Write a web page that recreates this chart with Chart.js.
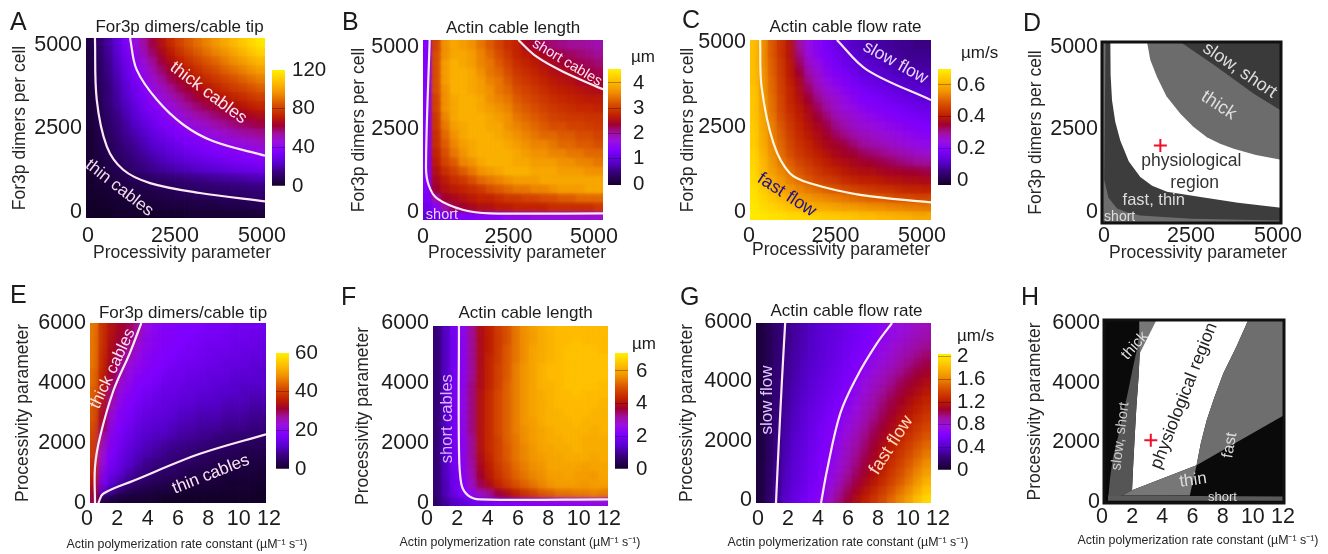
<!DOCTYPE html>
<html>
<head>
<meta charset="utf-8">
<title>Actin cable parameter scans</title>
<script src="https://cdn.jsdelivr.net/npm/chart.js@4"></script>
<style>
  html, body { margin: 0; background: #fff; }
  body { position: relative; width: 1328px; height: 554px; overflow: hidden; font-family: "Liberation Sans", Arial, sans-serif; color: #1c1c1c; }
  canvas { position: absolute; filter: blur(0.5px); }
  .tag { position: absolute; line-height: 1; white-space: nowrap; }
</style>
</head>
<body>
<script>
// heat map values, rows from the top of each panel down, 20 columns left to right
const tipDimersA = [
  [5,11,18,26,35,45,53,61,68,75,81,86,90,94,98,102,106,110,114,118],
  [4,10,17,25,33,42,50,58,65,71,77,82,86,90,94,97,101,105,109,113],
  [4,10,16,23,31,39,47,54,61,67,72,77,81,85,88,92,96,99,103,106],
  [4,9,15,22,29,37,44,51,57,63,68,72,76,80,83,87,90,93,97,100],
  [4,9,14,20,27,34,41,47,53,59,63,68,71,75,78,81,84,87,90,93],
  [3,8,13,19,25,32,38,44,49,54,59,63,66,70,73,76,79,81,84,87],
  [3,8,13,18,24,30,35,41,46,50,54,58,62,65,68,70,73,75,78,80],
  [3,7,12,17,22,27,33,38,42,46,50,54,57,60,62,65,67,69,72,74],
  [3,7,11,15,20,25,30,34,38,42,45,49,52,54,57,59,61,63,65,67],
  [3,6,10,14,18,23,27,31,35,38,41,44,47,49,52,54,56,58,59,61],
  [2,6,9,13,17,20,24,28,31,34,37,39,42,44,46,48,50,52,53,55],
  [2,5,8,11,15,18,21,25,28,30,33,35,37,39,41,43,44,46,47,49],
  [2,5,7,10,13,16,19,22,24,27,29,31,33,35,36,38,39,41,42,43],
  [2,4,6,9,11,14,16,19,21,23,25,27,28,30,31,33,34,35,36,38],
  [2,4,5,7,9,12,14,16,18,19,21,22,24,25,26,27,29,30,31,32],
  [1,3,4,6,7,8,9,10,11,12,13,14,15,16,17,18,18,19,20,21],
  [1,2,3,4,5,6,6,7,8,8,9,10,11,11,12,12,13,13,14,14],
  [1,1,2,3,3,4,5,5,6,6,7,7,8,8,9,9,10,10,11,11],
  [0,1,1,2,2,2,3,3,3,4,4,4,5,5,5,6,6,6,7,7],
  [0,0,0,1,1,1,1,1,1,1,1,2,2,2,2,2,2,2,2,3]
];
const cableLengthB = [
  [1.4,3.1,3.7,3.9,3.8,3.7,3.5,3.3,3.1,2.9,2.8,2.5,2.35,2.25,2.2,2.15,2.1,2.1,2.05,2],
  [1.4,3.2,3.7,3.9,3.9,3.8,3.6,3.4,3.2,3,2.8,2.7,2.6,2.45,2.35,2.3,2.25,2.2,2.15,2.1],
  [1.4,3.2,3.8,4,3.9,3.8,3.6,3.5,3.3,3.1,2.9,2.8,2.7,2.6,2.5,2.4,2.35,2.3,2.25,2.2],
  [1.4,3.2,3.8,4,4,3.9,3.7,3.5,3.4,3.2,3,2.9,2.8,2.7,2.6,2.55,2.5,2.4,2.35,2.3],
  [1.4,3.2,3.8,4,4,3.9,3.8,3.6,3.5,3.3,3.1,3,2.9,2.8,2.7,2.65,2.6,2.5,2.45,2.4],
  [1.4,3.2,3.7,4,4,3.9,3.8,3.7,3.5,3.4,3.2,3.1,3,2.9,2.8,2.75,2.7,2.65,2.6,2.55],
  [1.4,3.1,3.7,3.9,4,4,3.9,3.7,3.6,3.5,3.3,3.2,3.1,3,2.9,2.85,2.8,2.75,2.7,2.7],
  [1.4,3.1,3.7,3.9,4,4,3.9,3.8,3.7,3.6,3.4,3.3,3.2,3.1,3,2.95,2.9,2.85,2.85,2.8],
  [1.4,3,3.6,3.9,4,4,4,3.9,3.8,3.7,3.5,3.4,3.3,3.2,3.1,3.05,3,3,2.95,2.95],
  [1.4,3,3.5,3.8,3.9,4,4,3.9,3.9,3.7,3.6,3.5,3.4,3.3,3.2,3.2,3.1,3.1,3.05,3],
  [1.4,2.9,3.4,3.7,3.9,4,4,4,3.9,3.8,3.7,3.6,3.5,3.4,3.4,3.3,3.3,3.2,3.2,3.1],
  [1.4,2.9,3.3,3.6,3.8,3.9,4,4,4,3.9,3.8,3.7,3.6,3.6,3.5,3.4,3.4,3.3,3.3,3.2],
  [1.4,2.8,3.2,3.5,3.7,3.9,4,4,4,4,3.9,3.8,3.7,3.7,3.6,3.6,3.5,3.5,3.4,3.4],
  [1.4,2.7,3.1,3.3,3.6,3.7,3.9,4,4,4,3.9,3.9,3.8,3.8,3.8,3.7,3.7,3.6,3.6,3.5],
  [1.4,2.6,2.9,3.1,3.3,3.5,3.7,3.8,3.9,4,4,4,3.9,3.9,3.9,3.8,3.8,3.8,3.7,3.7],
  [1.4,2.5,2.7,2.9,3,3.2,3.4,3.5,3.6,3.7,3.8,3.8,3.8,3.9,3.9,3.9,3.9,3.9,3.9,3.9],
  [1.4,2.4,2.6,2.7,2.8,2.9,3,3.2,3.3,3.4,3.5,3.5,3.6,3.6,3.7,3.8,3.8,3.8,3.9,3.9],
  [1.3,2,2.4,2.5,2.6,2.7,2.8,2.8,2.9,3,3,3.1,3.1,3.2,3.2,3.3,3.3,3.4,3.4,3.4],
  [1.2,1.5,2,2.3,2.4,2.5,2.6,2.6,2.7,2.7,2.8,2.8,2.8,2.8,2.9,2.9,2.9,2.9,2.9,3],
  [1,1.1,1.2,1.3,1.4,1.4,1.5,1.5,1.5,1.6,1.6,1.6,1.7,1.7,1.7,1.7,1.8,1.8,1.8,1.8]
];
const flowRateC = [
  [.63,.56,.49,.44,.39,.30,.24,.21,.18,.15,.13,.11,.10,.09,.08,.08,.07,.07,.06,.06],
  [.63,.56,.49,.44,.39,.31,.25,.22,.19,.17,.15,.13,.11,.10,.09,.08,.08,.07,.07,.07],
  [.63,.56,.50,.45,.40,.33,.27,.24,.21,.18,.16,.14,.13,.12,.11,.10,.09,.08,.08,.08],
  [.63,.57,.50,.45,.40,.35,.29,.26,.22,.20,.18,.16,.14,.13,.12,.11,.10,.10,.09,.09],
  [.63,.57,.51,.46,.41,.37,.31,.27,.24,.22,.20,.18,.16,.15,.14,.13,.12,.11,.11,.10],
  [.64,.57,.51,.46,.42,.38,.33,.29,.26,.24,.22,.20,.18,.17,.16,.15,.14,.13,.12,.12],
  [.64,.58,.52,.47,.42,.39,.35,.31,.28,.26,.24,.22,.20,.19,.18,.17,.16,.15,.14,.13],
  [.64,.58,.52,.47,.43,.40,.37,.33,.30,.27,.25,.24,.22,.21,.20,.19,.18,.17,.16,.15],
  [.64,.59,.53,.48,.44,.41,.38,.35,.32,.29,.27,.26,.24,.23,.22,.21,.20,.19,.18,.17],
  [.65,.59,.54,.49,.45,.42,.39,.37,.34,.31,.29,.27,.26,.25,.24,.23,.22,.21,.20,.19],
  [.65,.60,.54,.50,.46,.43,.40,.38,.36,.33,.31,.29,.28,.27,.26,.25,.24,.23,.22,.21],
  [.65,.60,.55,.51,.47,.44,.42,.39,.37,.36,.34,.32,.30,.29,.28,.27,.26,.25,.24,.23],
  [.66,.61,.56,.52,.48,.45,.43,.41,.39,.37,.36,.35,.33,.32,.31,.30,.29,.28,.27,.26],
  [.66,.62,.57,.53,.50,.47,.45,.43,.41,.39,.38,.37,.36,.35,.34,.33,.32,.31,.30,.30],
  [.67,.62,.58,.55,.52,.49,.47,.45,.43,.42,.40,.39,.38,.38,.37,.36,.36,.35,.35,.34],
  [.67,.63,.60,.57,.54,.52,.49,.47,.46,.45,.43,.42,.41,.41,.40,.39,.39,.38,.38,.37],
  [.68,.65,.62,.59,.57,.55,.53,.52,.50,.49,.48,.47,.46,.45,.44,.44,.43,.42,.42,.41],
  [.68,.66,.64,.62,.60,.58,.57,.56,.55,.54,.53,.52,.51,.50,.50,.49,.48,.48,.47,.47],
  [.69,.67,.66,.65,.63,.62,.61,.60,.60,.59,.58,.58,.57,.56,.56,.55,.55,.54,.54,.53],
  [.69,.69,.68,.68,.67,.67,.66,.66,.65,.65,.64,.64,.63,.63,.62,.62,.61,.61,.60,.60]
];
const tipDimersE = [
  [46,38,34,32,30,27,22,20,19,19,18,18,18,17,17,17,16,16,16,16],
  [46,38,34,31,29,25,21,20,19,19,18,18,17,17,17,16,16,16,15,15],
  [46,38,33,30,28,23,21,20,19,18,18,17,17,16,16,16,15,15,15,14],
  [46,37,33,29,26,22,20,19,18,18,17,17,16,16,15,15,15,14,14,14],
  [46,37,32,28,23,21,20,19,18,17,16,16,16,15,15,14,14,14,13,13],
  [45,36,31,26,22,20,19,18,17,16,16,15,15,14,14,14,13,13,13,12],
  [45,36,30,24,21,19,18,17,16,15,15,14,14,14,13,13,12,12,12,12],
  [44,35,28,22,20,18,17,16,15,15,14,14,13,13,12,12,12,11,11,11],
  [44,34,26,21,19,17,16,15,14,14,13,13,12,12,12,11,11,11,10,10],
  [43,33,24,20,18,16,15,14,14,13,12,12,11,11,11,10,10,10,9,9],
  [43,32,22,19,17,15,14,13,13,12,11,11,10,10,10,9,9,9,8,8],
  [42,30,21,18,16,14,13,12,12,11,10,10,9,9,9,8,8,8,7,7],
  [41,27,20,17,15,13,12,11,11,10,9,9,8,8,7,7,6,6,6,5],
  [40,25,19,16,14,12,11,10,9,8,8,7,7,6,6,5,5,4,4,4],
  [40,23,18,15,13,11,10,9,8,7,7,6,5,5,4,4,4,3,3,3],
  [38,22,17,14,12,10,8,7,7,6,5,5,4,4,3,3,3,2,2,2],
  [37,20,15,13,10,8,7,6,5,5,4,3,3,3,2,2,2,2,2,1],
  [35,18,13,10,8,6,5,4,4,3,3,2,2,2,2,1,1,1,1,1],
  [33,14,9,6,4,3,3,2,2,2,1,1,1,1,1,1,1,1,1,0],
  [30,3,2,1,1,1,1,1,0,0,0,0,0,0,0,0,0,0,0,0]
];
const cableLengthF = [
  [.7,1.3,1.9,2.3,3.1,3.8,4.1,4.5,4.8,5.2,5.5,5.7,5.9,6,6.1,6.1,6.1,6.1,6.1,6.1],
  [.7,1.3,1.9,2.3,3.1,3.8,4.1,4.5,4.8,5.2,5.5,5.7,5.9,6,6.1,6.1,6.2,6.1,6.1,6.1],
  [.7,1.3,1.9,2.3,3.1,3.8,4.1,4.5,4.9,5.2,5.5,5.8,5.9,6,6.1,6.2,6.2,6.2,6.2,6.1],
  [.7,1.3,1.9,2.3,3.1,3.8,4.2,4.5,4.9,5.2,5.5,5.8,5.9,6,6.1,6.2,6.2,6.2,6.2,6.2],
  [.7,1.3,1.9,2.3,3.1,3.8,4.2,4.6,4.9,5.3,5.6,5.8,6,6.1,6.1,6.2,6.2,6.2,6.2,6.2],
  [.7,1.3,1.9,2.3,3.1,3.8,4.2,4.6,4.9,5.3,5.6,5.8,6,6.1,6.1,6.2,6.2,6.2,6.2,6.2],
  [.7,1.3,1.9,2.3,3.2,3.8,4.2,4.6,5,5.3,5.6,5.8,6,6,6.1,6.2,6.2,6.2,6.2,6.1],
  [.7,1.3,1.9,2.4,3.2,3.9,4.3,4.7,5,5.3,5.6,5.8,5.9,6,6.1,6.1,6.2,6.1,6.1,6.1],
  [.7,1.3,1.9,2.4,3.2,3.9,4.3,4.7,5,5.3,5.6,5.8,5.9,6,6.1,6.1,6.1,6.1,6.1,6],
  [.7,1.3,1.9,2.4,3.2,3.9,4.3,4.7,5,5.3,5.6,5.8,5.9,6,6,6.1,6.1,6.1,6,6],
  [.7,1.3,1.9,2.4,3.2,3.9,4.3,4.7,5,5.3,5.6,5.7,5.9,6,6,6,6.1,6,6,6],
  [.7,1.3,1.9,2.4,3.2,3.9,4.3,4.7,5,5.3,5.5,5.7,5.8,5.9,6,6,6,6,5.9,6],
  [.7,1.3,1.9,2.3,3.1,3.9,4.3,4.6,5,5.2,5.5,5.7,5.8,5.9,5.9,6,6,5.9,5.9,5.9],
  [.7,1.3,1.9,2.3,3.1,3.9,4.3,4.6,4.9,5.2,5.4,5.6,5.8,5.8,5.9,5.9,6,5.9,5.9,5.9],
  [.7,1.3,1.9,2.3,3.1,3.8,4.2,4.6,4.9,5.2,5.4,5.6,5.7,5.8,5.8,5.9,5.9,5.9,5.8,5.9],
  [.7,1.3,1.9,2.3,3,3.7,4.1,4.5,4.8,5.1,5.3,5.5,5.6,5.8,5.8,5.8,5.8,5.7,5.8,5.8],
  [.7,1.3,1.8,2.3,2.9,3.6,4,4.4,4.7,5,5.2,5.4,5.5,5.7,5.7,5.8,5.7,5.7,5.6,5.8],
  [.7,1.2,1.8,2.2,2.8,3.4,3.8,4.2,4.5,4.8,5,5.2,5.4,5.6,5.7,5.7,5.7,5.6,5.7,5.7],
  [.7,1.2,1.7,2.1,2.4,2.8,3.1,3.5,3.8,4.1,4.4,4.6,4.9,5,5.2,5.2,5.3,5.3,5.4,5.3],
  [.6,1,1.3,1.5,1.7,1.8,1.9,2,2,2.1,2.1,2.2,2.2,2.2,2.2,2.3,2.3,2.3,2.4,2.4]
];
const flowRateG = [
  [.05,.13,.20,.26,.31,.35,.39,.43,.46,.49,.53,.56,.60,.63,.70,.74,.78,.81,.84,.87],
  [.05,.13,.20,.26,.31,.36,.40,.44,.47,.50,.54,.57,.60,.65,.71,.76,.80,.83,.87,.90],
  [.05,.13,.21,.27,.32,.36,.40,.44,.48,.52,.55,.58,.62,.69,.74,.79,.83,.87,.91,.94],
  [.05,.14,.21,.27,.33,.37,.41,.45,.49,.53,.56,.60,.66,.72,.77,.82,.87,.91,.95,.99],
  [.05,.14,.22,.28,.33,.38,.42,.46,.50,.54,.58,.62,.70,.75,.80,.85,.90,.95,1.00,1.04],
  [.05,.14,.22,.28,.34,.39,.43,.47,.52,.56,.60,.66,.73,.79,.84,.89,.95,1.00,1.05,1.09],
  [.05,.14,.23,.29,.35,.40,.44,.49,.53,.57,.62,.70,.77,.83,.88,.94,1.00,1.05,1.10,1.15],
  [.05,.14,.23,.30,.36,.41,.46,.50,.55,.59,.65,.72,.80,.86,.92,.98,1.04,1.10,1.15,1.20],
  [.05,.15,.24,.30,.37,.42,.47,.52,.56,.61,.68,.75,.83,.89,.96,1.02,1.08,1.14,1.20,1.25],
  [.05,.15,.24,.31,.38,.44,.49,.54,.59,.64,.71,.78,.85,.92,.99,1.05,1.12,1.18,1.24,1.30],
  [.05,.15,.25,.32,.39,.45,.51,.56,.61,.67,.74,.81,.88,.95,1.02,1.09,1.16,1.22,1.29,1.35],
  [.06,.16,.25,.33,.40,.46,.52,.58,.63,.69,.77,.84,.92,.99,1.06,1.13,1.20,1.27,1.34,1.40],
  [.06,.16,.26,.34,.41,.47,.53,.59,.65,.72,.80,.87,.95,1.03,1.10,1.17,1.25,1.32,1.39,1.46],
  [.06,.16,.26,.35,.42,.48,.54,.60,.66,.74,.83,.90,.98,1.06,1.14,1.22,1.30,1.37,1.45,1.52],
  [.06,.16,.27,.36,.43,.49,.55,.61,.68,.76,.85,.93,1.01,1.09,1.17,1.26,1.34,1.42,1.50,1.58],
  [.06,.17,.27,.37,.44,.50,.56,.62,.70,.79,.88,.96,1.04,1.13,1.21,1.30,1.38,1.47,1.56,1.65],
  [.06,.17,.28,.38,.45,.51,.57,.64,.72,.82,.91,.99,1.08,1.16,1.25,1.34,1.43,1.52,1.62,1.72],
  [.06,.17,.29,.39,.46,.52,.58,.65,.76,.85,.95,1.03,1.12,1.20,1.29,1.38,1.47,1.57,1.68,1.80],
  [.06,.18,.30,.40,.48,.54,.60,.67,.80,.90,1.00,1.09,1.18,1.27,1.36,1.45,1.55,1.65,1.76,1.88],
  [.06,.18,.31,.42,.50,.56,.63,.70,.84,.95,1.05,1.15,1.24,1.33,1.42,1.52,1.62,1.72,1.85,1.96]
];

// white contour lines, [x, y] in axis units
const thinLineA = [[250,5000],[300,3290],[580,1990],[1040,1340],[1790,970],[3180,695],[5000,463]];
const thickLineA = [[1230,5000],[1415,4120],[1975,3290],[2720,2590],[3560,2130],[5000,1730]];
const shortLineB = [[185,5000],[83,1481],[157,972],[387,602],[1125,278],[1863,185],[5000,185]];
const shortCablesB = [[2648,5000],[3155,4537],[3893,4120],[5000,3630]];
const fastLineC = [[280,5000],[320,3700],[650,2130],[1100,1300],[1660,1020],[3040,700],[5000,490]];
const slowLineC = [[2400,5000],[3230,4170],[5000,3330]];
const thickLineE = [[.34,0],[.34,1200],[.68,2200],[1.6,3750],[2.7,4980],[3.5,6000]];
const thinLineE = [[.57,0],[.9,310],[3,750],[7.5,1640],[12,2290]];
const shortLineF = [[1.78,6000],[1.78,1967],[1.94,744],[2.4,356],[3.2,222],[12,222]];
const slowLineG = [[2,6000],[1.78,4100],[1.55,1870],[1.37,0]];
const fastLineG = [[4.46,0],[4.87,1090],[5.78,2990],[6.93,4220],[8.3,5330],[9.33,6000]];

// phase diagram regions, drawn as closed shapes
const dSlowShort = [[2190,5000],[3210,4310],[4240,3570],[5000,3110],[5000,5000]];
const dThick = [[1257,5000],[1350,4500],[1537,4030],[1800,3500],[2190,3020],[2550,2660],[2930,2370],[3300,2190],[3680,2050],[4300,1880],[5000,1750],[5000,5000]];
const dFastThin = [[0,5000],[233,5000],[240,4100],[280,3390],[370,2800],[510,2280],[750,1700],[1070,1270],[1400,1030],[1815,860],[2750,720],[3800,560],[5000,420],[5000,0],[0,0]];
const dShort = [[0,5000],[100,5000],[80,3000],[60,1200],[180,700],[420,400],[700,290],[1070,210],[2500,120],[5000,70],[5000,0],[0,0]];
const dCross = [[1630,2140]];
const hBase = [[0,0],[0,6000],[12,6000],[12,0]];
const hWhite = [[2.38,6000],[9.62,6000],[8.8,5100],[7.95,4250],[7.35,3450],[6.85,2720],[6.45,1950],[6.17,1240],[1.87,420],[1.94,1180],[2.05,2200],[2.16,3150],[2.3,4100],[2.38,4900]];
const hSlowShort = [[2.38,5670],[2.2,5050],[1.94,4470],[1.6,3650],[1.27,2930],[.95,2200],[.6,1500],[.4,800],[.27,100],[1.2,250],[1.87,420],[1.94,1180],[2.05,2200],[2.16,3150],[2.3,4100],[2.38,4900]];
const hThick = [[2.38,6000],[3.5,6000],[2.38,4900]];
const hFast = [[6.17,1240],[6.45,1950],[6.85,2720],[7.35,3450],[7.95,4250],[8.8,5100],[9.62,6000],[12,6000],[12,2880]];
const hThin = [[1.2,250],[1.87,420],[6.17,1240],[5.72,250]];
const hShort = [[.27,250],[12,210],[12,70],[.27,70]];
const hCross = [[3.12,2058]];

const ticks5000 = [0,2500,5000];
const ticks6000 = [0,2000,4000,6000];
const ticks12 = [0,2,4,6,8,10,12];

const xProc = 'Processivity parameter';
const yFor3p = 'For3p dimers per cell';
const xActin = 'Actin polymerization rate constant (µM⁻¹ s⁻¹)';

// black, violet, dark red, orange, yellow
const colorStops = [
  [0,[21,0,42]],[.12,[58,0,128]],[.2,[90,0,208]],[.3,[128,0,255]],[.38,[154,16,224]],[.45,[160,16,160]],
  [.52,[160,0,48]],[.6,[192,32,0]],[.7,[216,80,0]],[.8,[240,144,0]],[.9,[255,192,0]],[1,[255,240,0]]
];

function heatColor(v, min, max) {
  let f = Math.max(0, Math.min(1, (v - min) / (max - min)));
  for (let i = 1; i < colorStops.length; i++) {
    if (f <= colorStops[i][0]) {
      let a = colorStops[i-1], b = colorStops[i];
      let t = (f - a[0]) / (b[0] - a[0]);
      let c = a[1].map((n, k) => Math.round(n + (b[1][k] - n) * t));
      return `rgb(${c[0]},${c[1]},${c[2]})`;
    }
  }
  return 'rgb(255,240,0)';
}

function addTag(text, left, top, size) {
  let el = document.createElement('div');
  el.className = 'tag';
  el.textContent = text;
  el.style.left = left + 'px';
  el.style.top = top + 'px';
  el.style.fontSize = size + 'px';
  document.body.appendChild(el);
}

function addCanvas(left, top, w, h) {
  let c = document.createElement('canvas');
  c.width = w;
  c.height = h;
  c.style.left = left + 'px';
  c.style.top = top + 'px';
  document.body.appendChild(c);
  return c;
}

// axis that only carries labels, stretched so its labels land where the figure has them
function tickRange(lo, hi, pxLo, pxHi, edgeLo, edgeHi) {
  let per = (hi - lo) / (pxHi - pxLo);
  return { min: lo + (edgeLo - pxLo) * per, max: hi + (edgeHi - pxHi) * per };
}

function lineSet(points, color) {
  return {
    type: 'line', data: points.map(p => ({x: p[0], y: p[1]})), xAxisID: 'x', yAxisID: 'y',
    borderColor: color || '#fbeaf6', borderWidth: 2.2, pointRadius: 0, tension: 0.35, fill: false, order: 0
  };
}

function shapeSet(points, color, order) {
  return {
    type: 'line', data: points.map(p => ({x: p[0], y: p[1]})), xAxisID: 'x', yAxisID: 'y',
    backgroundColor: color, borderWidth: 0, pointRadius: 0, tension: 0, fill: 'shape', order: order
  };
}

function crossSet(points) {
  return {
    type: 'line', data: points.map(p => ({x: p[0], y: p[1]})), xAxisID: 'x', yAxisID: 'y', showLine: false,
    pointStyle: 'cross', pointRadius: 6.5, pointBorderColor: '#f0102a', pointBorderWidth: 2, order: 0
  };
}

function frameSet(xMax, yMax) {
  return {
    type: 'line', data: [{x:0,y:0},{x:xMax,y:0},{x:xMax,y:yMax},{x:0,y:yMax},{x:0,y:0}], xAxisID: 'x', yAxisID: 'y',
    borderColor: '#111', borderWidth: 3, pointRadius: 0, clip: false, order: 0, borderCapStyle: 'square'
  };
}

// sharp cells underneath, the same cells softened on top (the figure's maps are smooth)
function heatSets(rows, yMax, min, max, soft) {
  let dy = yMax / rows.length;
  let sets = [];
  for (const layer of [0, 1]) {
    rows.forEach((row, r) => sets.push({
      data: row.map(() => [yMax - (r + 1) * dy, yMax - r * dy]),
      backgroundColor: row.map(v => heatColor(v, min, max)),
      xAxisID: 'xc', yAxisID: 'y', grouped: false, barPercentage: 1, categoryPercentage: 1, borderWidth: 0,
      order: layer ? 5 : 6, soft: layer ? soft : 0
    }));
  }
  return sets;
}

function panel(p) {
  let w = p.x1 - p.x0, h = p.y1 - p.y0;
  let titleH = p.title ? 20 + p.titleGap : 22;
  let right = p.left + 2 * (p.titleDx || 0);
  let canvasLeft = p.x0 - p.left, canvasTop = p.y0 - titleH;
  let canvas = addCanvas(canvasLeft, canvasTop, p.left + w + right, titleH + h + p.bottom);
  let xr = tickRange(p.xTicks[0], p.xTicks[p.xTicks.length-1], p.xPx[0], p.xPx[1], p.x0, p.x1);
  let yr = tickRange(p.yTicks[0], p.yTicks[p.yTicks.length-1], p.yPx[0], p.yPx[1], p.y1, p.y0);
  let texts = {
    id: 'panelText',
    beforeDatasetDraw(chart, args) {
      let s = chart.data.datasets[args.index].soft;
      if (s) { chart.ctx.save(); chart.ctx.filter = `blur(${s}px)`; }
    },
    afterDatasetDraw(chart, args) {
      if (chart.data.datasets[args.index].soft) chart.ctx.restore();
    },
    afterDatasetsDraw(chart) {
      let c = chart.ctx;
      c.textAlign = 'center';
      c.textBaseline = 'middle';
      for (const t of p.labels) {
        c.save();
        c.translate(chart.scales.x.getPixelForValue(t.x), chart.scales.y.getPixelForValue(t.y));
        c.rotate((t.rot || 0) * Math.PI / 180);
        c.font = `${t.size}px "Liberation Sans"`;
        c.fillStyle = t.color;
        c.fillText(t.text, 0, 0);
        c.restore();
      }
      // x title is drawn here because the scale title gets squeezed to the axis length
      c.font = `${p.xTitleSize}px "Liberation Sans"`;
      c.fillStyle = '#262626';
      c.fillText(p.xTitle, p.xTitleAt[0] - canvasLeft, p.xTitleAt[1] - canvasTop);
    }
  };
  new Chart(canvas, {
    type: 'bar',
    data: { labels: p.rows ? p.rows[0].map((_, i) => i) : [0], datasets: p.sets },
    plugins: [texts],
    options: {
      responsive: false, animation: false,
      layout: { padding: p.title ? 0 : { top: titleH } },
      plugins: {
        legend: { display: false }, tooltip: { enabled: false },
        title: { display: !!p.title, text: p.title, color: '#1c1c1c', font: { size: 17, weight: 'normal', lineHeight: 20/17 }, padding: { top: 0, bottom: p.titleGap || 0 } }
      },
      scales: {
        xc: { type: 'category', display: false },
        x: { type: 'linear', display: false, min: 0, max: p.xMax, offset: false },
        y: { type: 'linear', display: false, min: 0, max: p.yMax },
        xt: {
          type: 'linear', position: 'bottom', min: xr.min, max: xr.max, offset: false,
          afterBuildTicks(s) { s.ticks = p.xTicks.map(v => ({value: v})); },
          afterFit(s) { s.height = p.bottom; },
          grid: { display: false, drawTicks: false }, border: { display: false },
          ticks: { color: '#1c1c1c', font: { size: 21.5 }, padding: p.xPad, maxRotation: 0, autoSkip: false, callback: v => String(v) }
        },
        yt: {
          type: 'linear', position: 'left', min: yr.min, max: yr.max,
          afterBuildTicks(s) { s.ticks = p.yTicks.map(v => ({value: v})); },
          afterFit(s) { s.width = p.left; },
          grid: { display: false, drawTicks: false }, border: { display: false },
          ticks: { color: '#1c1c1c', font: { size: 21.5 }, padding: 4, autoSkip: false, callback: v => String(v) },
          title: { display: true, text: p.yTitle, color: '#262626', font: { size: 17.5, lineHeight: 1.2 }, padding: 0 }
        },
        yr: {
          type: 'linear', position: 'right', min: 0, max: 1,
          afterFit(s) { s.width = right; },
          grid: { display: false, drawTicks: false }, border: { display: false }, ticks: { display: false }
        }
      }
    }
  });
}

function colorBar(x0, x1, y0, y1, min, max, tickVals, pad) {
  let canvas = addCanvas(x0, y0 - 30, x1 - x0 + 64, y1 - y0 + 60);
  let fill = ctx => {
    let a = ctx.chart.chartArea;
    if (!a) return '#000';
    let g = ctx.chart.ctx.createLinearGradient(0, a.bottom, 0, a.top);
    colorStops.forEach(s => g.addColorStop(s[0], `rgb(${s[1].join(',')})`));
    return g;
  };
  new Chart(canvas, {
    type: 'bar',
    data: { labels: [''], datasets: [{ data: [[min, max]], backgroundColor: fill, barPercentage: 1, categoryPercentage: 1, borderWidth: 0 }] },
    options: {
      responsive: false, animation: false,
      layout: { padding: { top: 30, bottom: 30 } },
      plugins: { legend: { display: false }, tooltip: { enabled: false } },
      scales: {
        x: { display: false },
        y: {
          position: 'right', min: min, max: max,
          afterBuildTicks(s) { s.ticks = tickVals.map(v => ({value: v})); },
          afterFit(s) { s.width = 64; },
          grid: { color: c => (c.tick && (c.tick.value <= 0 || c.tick.value >= max)) ? 'rgba(0,0,0,0)' : 'rgba(0,0,0,.3)', z: 1, drawTicks: false },
          border: { display: false },
          ticks: { color: '#1c1c1c', font: { size: 20.5 }, padding: pad, autoSkip: false, callback: v => String(v) }
        }
      }
    }
  });
}

Chart.defaults.font.family = '"Liberation Sans", Arial, sans-serif';

const pale = '#fbe4f2';

panel({ x0:86, x1:265, y0:38, y1:218, left:76, bottom:45, title:'For3p dimers/cable tip', titleGap:1, titleDx:4, xPad:5,
  xMax:5000, yMax:5000, xTicks:ticks5000, yTicks:ticks5000, xPx:[88,262], yPx:[212,45], xTitle:xProc, xTitleSize:17.5, xTitleAt:[182,253], yTitle:yFor3p, rows:tipDimersA,
  sets:[lineSet(thinLineA), lineSet(thickLineA), ...heatSets(tipDimersA, 5000, 0, 120, 4)],
  labels:[{text:'thick cables',x:3417,y:3472,rot:37,size:17.5,color:pale},{text:'thin cables',x:931,y:833,rot:38,size:17,color:'#f0dcea'}] });

panel({ x0:423, x1:603, y0:40, y1:220, left:74, bottom:44, title:'Actin cable length', titleGap:2, titleDx:0, xPad:4,
  xMax:5000, yMax:5000, xTicks:ticks5000, yTicks:ticks5000, xPx:[423,594], yPx:[212,47], xTitle:xProc, xTitleSize:17.5, xTitleAt:[517,253], yTitle:yFor3p, rows:cableLengthB,
  sets:[lineSet(shortLineB), lineSet(shortCablesB), ...heatSets(cableLengthB, 5000, 0, 4.6, 2)],
  labels:[{text:'short cables',x:4004,y:4370,rot:31,size:14.5,color:pale},{text:'short',x:526,y:139,size:14.5,color:'#ecd0f6'}] });

panel({ x0:750, x1:931, y0:40, y1:220, left:72, bottom:41, title:'Actin cable flow rate', titleGap:3, titleDx:5, xPad:3,
  xMax:5000, yMax:5000, xTicks:ticks5000, yTicks:ticks5000, xPx:[749,922], yPx:[212,42], xTitle:xProc, xTitleSize:17.5, xTitleAt:[841,250], yTitle:yFor3p, rows:flowRateC,
  sets:[lineSet(fastLineC,'#fff6e0'), lineSet(slowLineC), ...heatSets(flowRateC, 5000, -.03, .7, 4)],
  labels:[{text:'slow flow',x:4013,y:4370,rot:29,size:17.5,color:'#e8d4ff'},{text:'fast flow',x:1015,y:694,rot:33,size:18,color:'#23108c'}] });

panel({ x0:1102, x1:1281, y0:42, y1:223, left:76, bottom:41, titleGap:0, xPad:0,
  xMax:5000, yMax:5000, xTicks:ticks5000, yTicks:ticks5000, xPx:[1104,1278], yPx:[212,47], xTitle:xProc, xTitleSize:17.5, xTitleAt:[1198,253], yTitle:yFor3p,
  sets:[frameSet(5000,5000), crossSet(dCross), shapeSet(dShort,'#6e6e6e',6), shapeSet(dSlowShort,'#3a3a3a',7), shapeSet(dThick,'#6c6c6c',8), shapeSet(dFastThin,'#3d3d3d',9)],
  labels:[{text:'slow, short',x:3846,y:4217,rot:34,size:18,color:'#dddddd'},{text:'thick',x:3259,y:3250,rot:33,size:18.5,color:'#dddddd'},
    {text:'physiological',x:2495,y:1704,size:17.5,color:'#333333'},{text:'region',x:2589,y:1105,size:17.5,color:'#333333'},
    {text:'fast, thin',x:1446,y:626,size:16.5,color:'#dddddd'},{text:'short',x:494,y:166,size:14,color:'#dddddd'}] });

panel({ x0:90, x1:266, y0:323, y1:503, left:77, bottom:50, title:'For3p dimers/cable tip', titleGap:0, titleDx:5, xPad:3,
  xMax:12, yMax:6000, xTicks:ticks12, yTicks:ticks6000, xPx:[87,269], yPx:[503,323], xTitle:xActin, xTitleSize:12.4, xTitleAt:[187,545], yTitle:xProc, rows:tipDimersE,
  sets:[lineSet(thickLineE), lineSet(thinLineE), ...heatSets(tipDimersE, 6000, 0, 60, 4)],
  labels:[{text:'thick cables',x:1.55,y:4478,rot:-65,size:16.5,color:pale},{text:'thin cables',x:8.24,y:955,rot:-21.6,size:17,color:pale}] });

panel({ x0:433, x1:608, y0:326, y1:506, left:80, bottom:45, title:'Actin cable length', titleGap:3, titleDx:5, xPad:0,
  xMax:12, yMax:6000, xTicks:ticks12, yTicks:ticks6000, xPx:[427,609], yPx:[503,323], xTitle:xActin, xTitleSize:12.4, xTitleAt:[520,543], yTitle:xProc, rows:cableLengthF,
  sets:[lineSet(shortLineF), ...heatSets(cableLengthF, 6000, 0, 6.85, 3)],
  labels:[{text:'short cables',x:.98,y:2911,rot:-90,size:16.5,color:'#dcb4ff'}] });

panel({ x0:756, x1:931, y0:323, y1:503, left:79, bottom:48, title:'Actin cable flow rate', titleGap:2, titleDx:3, xPad:3,
  xMax:12, yMax:6000, xTicks:ticks12, yTicks:ticks6000, xPx:[758,938], yPx:[500,322], xTitle:xActin, xTitleSize:12.4, xTitleAt:[848,543], yTitle:xProc, rows:flowRateG,
  sets:[lineSet(slowLineG), lineSet(fastLineG), ...heatSets(flowRateG, 6000, 0, 2.05, 4)],
  labels:[{text:'slow flow',x:.75,y:3433,rot:-90,size:17,color:'#e0c8ff'},{text:'fast flow',x:9.28,y:1929,rot:-57.6,size:18,color:'#ffd8c0'}] });

panel({ x0:1104, x1:1284, y0:320, y1:503, left:79, bottom:46, titleGap:0, xPad:1,
  xMax:12, yMax:6000, xTicks:ticks12, yTicks:ticks6000, xPx:[1102,1283], yPx:[502,323], xTitle:xActin, xTitleSize:12.4, xTitleAt:[1198,541], yTitle:xProc,
  sets:[frameSet(12,6000), crossSet(hCross), shapeSet(hShort,'#5a5a5a',6), shapeSet(hThin,'#777777',7), shapeSet(hFast,'#6e6e6e',8), shapeSet(hThick,'#777777',9), shapeSet(hSlowShort,'#555555',10), shapeSet(hWhite,'#ffffff',11), shapeSet(hBase,'#0a0a0a',12)],
  labels:[{text:'thick',x:2.05,y:5157,rot:-48,size:15.5,color:'#dddddd'},{text:'slow, short',x:1.09,y:2190,rot:-83,size:14.5,color:'#cccccc'},
    {text:'physiological region',x:5.34,y:3515,rot:-68.6,size:17.7,color:'#222222'},{text:'fast',x:8.39,y:1894,rot:-80,size:16,color:'#dddddd'},
    {text:'thin',x:5.94,y:744,rot:-8,size:17,color:'#dddddd'},{text:'short',x:7.9,y:197,size:13,color:'#dddddd'}] });

colorBar(272, 285, 70, 186, 0, 120, [0,40,80,120], 7);
colorBar(608, 621, 69, 185, -.04, 4.55, [0,1,2,3,4], 12);
colorBar(938, 951, 69, 185, -.03, .7, [0,.2,.4,.6], 6);
colorBar(276, 289, 353, 469, 0, 60, [0,20,40,60], 6);
colorBar(615, 628, 353, 469, 0, 7.1, [0,2,4,6], 8);
colorBar(938, 951, 354, 470, 0, 2.05, [0,.4,.8,1.2,1.6,2], 6);

addTag('µm', 631, 48, 17);
addTag('µm/s', 961, 44, 17);
addTag('µm', 632, 335, 17);
addTag('µm/s', 957, 327, 17);

addTag('A', 10, 9, 25);
addTag('B', 342, 9, 25);
addTag('C', 682, 7, 25);
addTag('D', 1023, 10, 25);
addTag('E', 10, 282, 25);
addTag('F', 341, 284, 25);
addTag('G', 680, 284, 25);
addTag('H', 1021, 284, 25);
</script>
</body>
</html>
